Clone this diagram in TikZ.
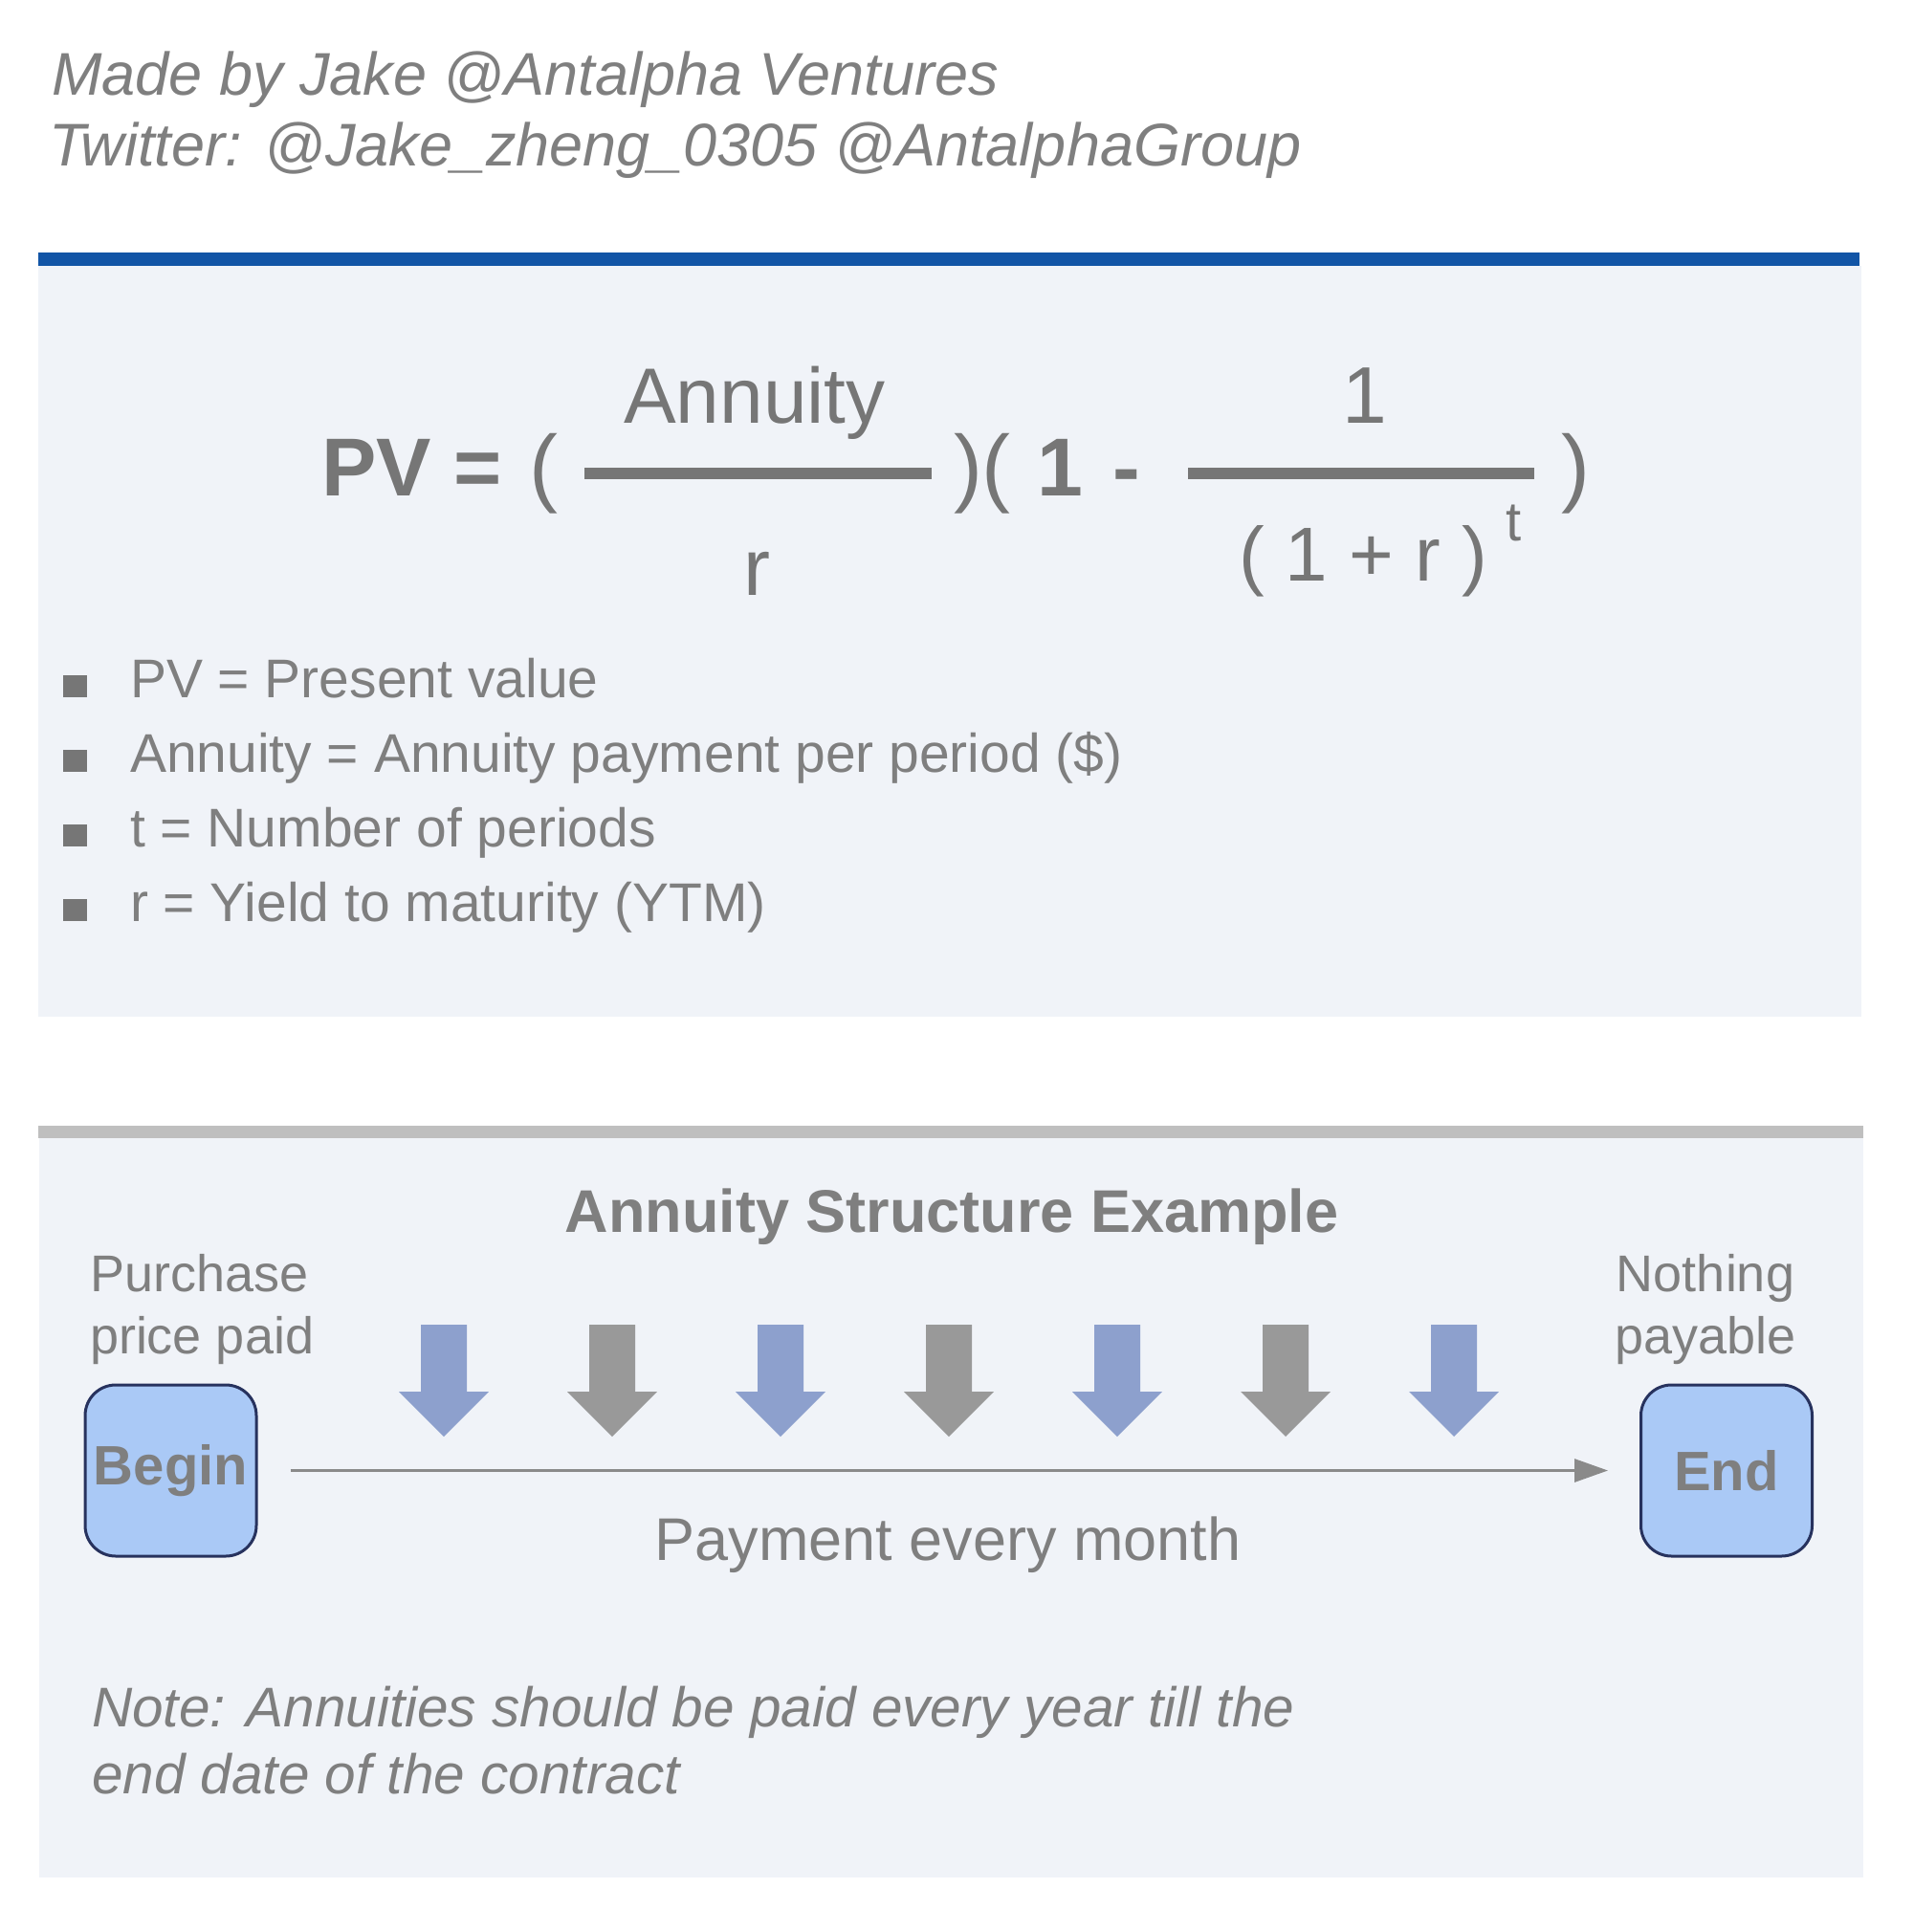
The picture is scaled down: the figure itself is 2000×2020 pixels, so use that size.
\documentclass[tikz,border=0pt]{standalone}
\usepackage{fontspec}
\setmainfont{Liberation Sans}
\usetikzlibrary{arrows.meta}
\definecolor{tgrey}{HTML}{7F7F7F}
\definecolor{fgrey}{HTML}{767676}
\definecolor{panel}{HTML}{F0F3F8}
\definecolor{bluebar}{HTML}{1255A6}
\definecolor{greybar}{HTML}{BFBFBF}
\definecolor{boxfill}{HTML}{AAC9F6}
\definecolor{boxline}{HTML}{27325E}
\definecolor{arrblue}{HTML}{8DA0CD}
\definecolor{arrgrey}{HTML}{999999}
\definecolor{tline}{HTML}{8A8A8A}
\newcommand{\fs}[1]{\fontsize{#1}{#1}\selectfont}
\begin{document}
\begin{tikzpicture}[x=1pt,y=-1pt,
  txt/.style={inner sep=0pt, outer sep=0pt, anchor=base west, text=tgrey},
  ctxt/.style={inner sep=0pt, outer sep=0pt, anchor=base, text=tgrey},
  ftxt/.style={inner sep=0pt, outer sep=0pt, anchor=base west, text=fgrey},
  fctxt/.style={inner sep=0pt, outer sep=0pt, anchor=base, text=fgrey},
  fracline/.style={draw=fgrey, line width=12pt},
  bullet/.style={fill=fgrey},
  stagebox/.style={draw=boxline, line width=3pt, fill=boxfill, rounded corners=32pt,
    minimum width=179pt, minimum height=179pt, inner sep=0pt, text=tgrey, font=\fs{58}\bfseries},
  timeline/.style={draw=tline, line width=3pt, -{Triangle[length=35pt,width=24pt]}}
]
\useasboundingbox (0,0) rectangle (2000,2020);
\fill[white] (0,0) rectangle (2000,2020);

% header
\node[txt, font=\fs{63}\itshape] (h1) at (54,100) {Made by Jake @Antalpha Ventures};
\node[txt, font=\fs{63}\itshape] (h2) at (51,174) {Twitter: @Jake\_zheng\_0305 @AntalphaGroup};

% top panel
\fill[panel] (40,278) rectangle (1946,1063);
\fill[bluebar] (40,264) rectangle (1944,278);

% formula
\node[ftxt, font=\fs{86}\bfseries] (pv) at (336,518) {PV};
\node[ftxt, font=\fs{86}\bfseries] (eq) at (474,518) {=};
\node[ftxt, font=\fs{90}] (lp1) at (553,518) {(};
\draw[fracline] (611,495) -- (974,495);
\node[fctxt, font=\fs{82}] (num1) at (789,442) {Annuity};
\node[fctxt, font=\fs{84}] (den1) at (791,622) {r};
\node[ftxt, font=\fs{90}] (rp1) at (997,518) {)(};
\node[fctxt, font=\fs{86}\bfseries] (one) at (1108,518) {1};
\node[fctxt, font=\fs{86}\bfseries] (minus) at (1178,518) {-};
\draw[fracline] (1242,495) -- (1604,495);
\node[fctxt, font=\fs{84}] (num2) at (1427,442) {1};
\node[ftxt, font=\fs{80}] (den2) at (1295,607) {( 1 + r )};
\node[ftxt, font=\fs{58}] (expt) at (1574,565) {t};
\node[ftxt, font=\fs{90}] (rp2) at (1632,518) {)};

% bullets
\foreach \b/\t [count=\i] in {729/{PV = Present value},
  807/{Annuity = Annuity payment per period (\$)},
  885/{t = Number of periods},
  963/{r = Yield to maturity (YTM)}} {
  \fill[bullet] (66,\b-23) rectangle (91,\b);
  \node[txt, font=\fs{57}] (item\i) at (136,\b) {\t};
}

% bottom panel
\fill[panel] (41,1190) rectangle (1948,1963);
\fill[greybar] (40,1177) rectangle (1948,1190);

\node[ctxt, font=\fs{63}\bfseries] (title) at (995,1288) {Annuity Structure Example};

\node[txt, font=\fs{54}] (purch1) at (94,1350) {Purchase};
\node[txt, font=\fs{54}] (purch2) at (94,1415) {price paid};
\node[ctxt, font=\fs{54}] (noth1) at (1783,1350) {Nothing};
\node[ctxt, font=\fs{54}] (noth2) at (1783,1415) {payable};

\node[stagebox] (begin) at (178.5,1537.5) {Begin};
\node[stagebox] (end) at (1805,1537.5) {End};

% payment arrows
\foreach \cx/\col in {464/arrblue,640/arrgrey,816/arrblue,992/arrgrey,1168/arrblue,1344/arrgrey,1520/arrblue} {
  \fill[\col] (\cx-24,1385) -- (\cx+24,1385) -- (\cx+24,1455) -- (\cx+47,1455)
    -- (\cx,1502) -- (\cx-47,1455) -- (\cx-24,1455) -- cycle;
}

\draw[timeline] ([xshift=34pt]begin.east) -- ([xshift=-33pt]end.west);
\node[ctxt, font=\fs{63}] (paylbl) at (991,1631) {Payment every month};

\node[txt, font=\fs{58.5}\itshape] (note1) at (96,1805) {Note: Annuities should be paid every year till the};
\node[txt, font=\fs{58.5}\itshape] (note2) at (96,1875) {end date of the contract};
\end{tikzpicture}
\end{document}
